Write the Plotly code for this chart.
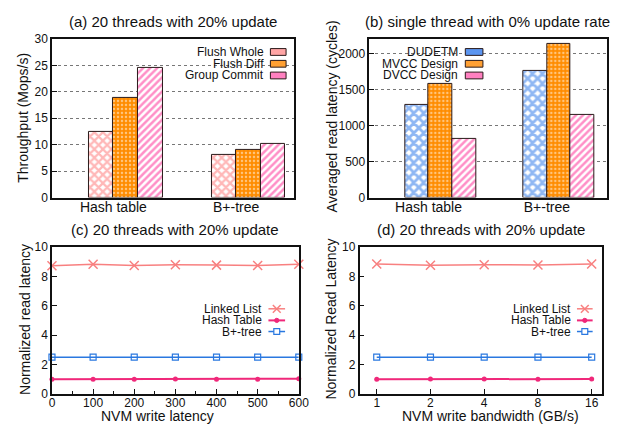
import plotly.graph_objects as go

W, H = 633, 428
FONT = "Liberation Sans, Arial, sans-serif"

# ---------------- data ----------------
structs = ["Hash table", "B+-tree"]
flush_whole = [12.4, 8.1]
flush_diff = [18.8, 9.1]
group_commit = [24.5, 10.2]

dudetm = [1290, 1750]
mvcc = [1570, 2135]
dvcc = [815, 1148]

lat_x = [0, 100, 200, 300, 400, 500, 600]
lat_ll = [8.72, 8.82, 8.74, 8.78, 8.76, 8.74, 8.82]
lat_ht = [0.99, 1.0, 1.0, 1.01, 1.0, 1.0, 1.03]
lat_bp = [2.5, 2.5, 2.5, 2.5, 2.5, 2.5, 2.5]

bw_x = ["1", "2", "4", "8", "16"]
bw_ll = [8.83, 8.75, 8.79, 8.77, 8.83]
bw_ht = [1.0, 1.01, 1.02, 1.0, 1.01]
bw_bp = [2.5, 2.5, 2.5, 2.5, 2.5]

# ---------------- styles ----------------
PINK_L = "#ff6f6f"
ORANGE = "#ff8c00"
MAGENTA = "#ff1f8f"
BLUE = "#1f6fe8"
LL_C = "#f88080"
HT_C = "#f0287a"
BP_C = "#2a78e0"
EDGE = "#2a1a1a"


def px_x(p):
    return p / W


def px_y(p):
    return 1 - p / H


fig = go.Figure()

pat_whole = dict(shape="x", fgcolor=PINK_L, bgcolor="white", size=6, solidity=0.6)
pat_diff = dict(shape=".", fgcolor="white", bgcolor=ORANGE, size=4, solidity=0.3)
pat_gc = dict(shape="/", fgcolor=MAGENTA, bgcolor="white", size=5, solidity=0.5)
pat_dud = dict(shape="x", fgcolor=BLUE, bgcolor="white", size=7, solidity=0.65)

idx = list(range(len(structs)))

# panel a
for name, vals, pat, off in [("Flush Whole", flush_whole, pat_whole, -0.2),
                             ("Flush Diff", flush_diff, pat_diff, 0.0),
                             ("Group Commit", group_commit, pat_gc, 0.2)]:
    fig.add_trace(go.Bar(x=idx, y=vals, name=name, offset=off, width=0.2,
                         marker=dict(pattern=pat, line=dict(color=EDGE, width=1)),
                         xaxis="x", yaxis="y", showlegend=False))
# panel b
for name, vals, pat, off in [("DUDETM", dudetm, pat_dud, -0.2),
                             ("MVCC Design", mvcc, pat_diff, 0.0),
                             ("DVCC Design", dvcc, pat_gc, 0.2)]:
    fig.add_trace(go.Bar(x=idx, y=vals, name=name, offset=off, width=0.2,
                         marker=dict(pattern=pat, line=dict(color=EDGE, width=1)),
                         xaxis="x2", yaxis="y2", showlegend=False))

# panel c, d
for xa, ya, xs, ll, ht, bp in [("x3", "y3", lat_x, lat_ll, lat_ht, lat_bp),
                               ("x4", "y4", bw_x, bw_ll, bw_ht, bw_bp)]:
    fig.add_trace(go.Scatter(x=xs, y=ll, name="Linked List", mode="lines+markers",
                             line=dict(color=LL_C, width=1.5),
                             marker=dict(symbol="x-thin", size=9, line=dict(color=LL_C, width=1.5)),
                             xaxis=xa, yaxis=ya, showlegend=False, cliponaxis=False))
    fig.add_trace(go.Scatter(x=xs, y=ht, name="Hash Table", mode="lines+markers",
                             line=dict(color=HT_C, width=2),
                             marker=dict(symbol="circle", size=5, color=HT_C),
                             xaxis=xa, yaxis=ya, showlegend=False, cliponaxis=False))
    fig.add_trace(go.Scatter(x=xs, y=bp, name="B+-tree", mode="lines+markers",
                             line=dict(color=BP_C, width=1.5),
                             marker=dict(symbol="square-open", size=6, color=BP_C,
                                         line=dict(color=BP_C, width=1.2)),
                             xaxis=xa, yaxis=ya, showlegend=False, cliponaxis=False))

# ---------------- axes ----------------
dom = {
    "a": ([50, 297], [33, 197]),
    "b": ([374, 617], [33, 197]),
    "c": ([50, 302], [248, 400]),
    "d": ([364, 612], [248, 400]),
}


def xd(k):
    return [px_x(dom[k][0][0]), px_x(dom[k][0][1])]


def yd(k):
    return [px_y(dom[k][1][1]), px_y(dom[k][1][0])]


common = dict(showline=True, linecolor="#111", linewidth=1.5, mirror=True,
              ticks="inside", ticklen=5, tickcolor="#111", zeroline=False,
              tickfont=dict(family=FONT, size=12, color="#111"))
grid = dict(showgrid=True, gridcolor="#777", griddash="dot", gridwidth=1)
catx = {**common, "ticks": "", "ticklabelstandoff": -4,
        "tickfont": dict(family=FONT, size=14, color="#111")}
numx = {**common, "ticklabelstandoff": -3}

fig.update_layout(
    width=W, height=H, margin=dict(l=0, r=0, t=0, b=0),
    paper_bgcolor="white", plot_bgcolor="white",
    font=dict(family=FONT, size=12, color="#111"),
    showlegend=False, bargap=0,
    xaxis=dict(domain=xd("a"), anchor="y", range=[-0.5, 1.47], tickvals=idx, ticktext=structs,
               showgrid=False, **catx),
    yaxis=dict(domain=yd("a"), anchor="x", range=[0, 30], dtick=5, **common, **grid),
    xaxis2=dict(domain=xd("b"), anchor="y2", range=[-0.5, 1.51], tickvals=idx, ticktext=structs,
                showgrid=False, **catx),
    yaxis2=dict(domain=yd("b"), anchor="x2", range=[0, 2200], tickvals=[0, 500, 1000, 1500, 2000],
                **common, **grid),
    xaxis3=dict(domain=xd("c"), anchor="y3", range=[0, 600], dtick=100, showgrid=False,
                minor=dict(dtick=50, ticks="inside", ticklen=3, tickcolor="#111"), **numx),
    yaxis3=dict(domain=yd("c"), anchor="x3", range=[0, 10], dtick=2, showgrid=False, **common),
    xaxis4=dict(domain=xd("d"), anchor="y4", type="category", range=[-0.32, 4.2], showgrid=False,
                **numx),
    yaxis4=dict(domain=yd("d"), anchor="x4", range=[0, 10], dtick=2, showgrid=False, **common),
)

annotations = []
shapes = []


def text(x, y, s, size=12, anchor="center", angle=0):
    annotations.append(dict(x=px_x(x), y=px_y(y), xref="paper", yref="paper", text=s,
                            showarrow=False, xanchor=anchor, yanchor="middle", textangle=angle,
                            borderpad=0,
                            font=dict(family=FONT, size=size, color="#111")))


# titles
text(174, 15, "(a) 20 threads with 20% update", 15)
text(495, 15, "(b) single thread with 0% update rate", 15)
text(176, 230, "(c) 20 threads with 20% update", 15)
text(488, 230, "(d) 20 threads with 20% update", 15)

# axis titles
text(21, 115, "Throughput (Mops/s)", 14, angle=-90)
text(336, 113, "Averaged read latency (cycles)", 14, angle=-90)
text(23, 323, "Normalized read latency", 14, angle=-90)
text(335, 323, "Normalized Read Latency", 14, angle=-90)
text(158, 422.5, "NVM write latency", 14)
text(498, 422.5, "NVM write bandwidth (GB/s)", 14)

# legend backgrounds (hide gridlines)
shapes.append(dict(type="rect", xref="paper", yref="paper", layer="between",
                   x0=px_x(173), x1=px_x(296), y0=px_y(78), y1=px_y(38),
                   fillcolor="white", line=dict(width=0)))
shapes.append(dict(type="rect", xref="paper", yref="paper", layer="between",
                   x0=px_x(375), x1=px_x(495), y0=px_y(78), y1=px_y(38),
                   fillcolor="white", line=dict(width=0)))

rows = [46.5, 58.7, 70.8]
bar_leg = [
    (267, 273, 289, [("Flush Whole", "#ffa5a5"), ("Flush Diff", "#ffa033"), ("Group Commit", "#ff80c0")]),
    (466, 472, 490, [("DUDETM", "#5b95f0"), ("MVCC Design", "#ffa033"), ("DVCC Design", "#ff80c0")]),
]
for tx, s0, s1, items in bar_leg:
    for (lab, col), ry in zip(items, rows):
        text(tx, ry, lab, 12, anchor="right")
        shapes.append(dict(type="rect", xref="paper", yref="paper", layer="above",
                           x0=px_x(s0), x1=px_x(s1), y0=px_y(ry + 3.5), y1=px_y(ry - 3.5),
                           fillcolor=col, line=dict(color=EDGE, width=1)))

lrows = [312, 324, 335.5]
for tx, l0, l1 in [(265, 271, 288), (581, 586, 602)]:
    mx = (l0 + l1) / 2
    for (lab, col, w), ry in zip([("Linked List", LL_C, 1.5), ("Hash Table", HT_C, 2),
                                  ("B+-tree", BP_C, 1.5)], lrows):
        text(tx, ry, lab, 12, anchor="right")
        shapes.append(dict(type="line", xref="paper", yref="paper", layer="above",
                           x0=px_x(l0), x1=px_x(l1), y0=px_y(ry), y1=px_y(ry),
                           line=dict(color=col, width=w)))
        if lab == "Linked List":
            for dy in (-4, 4):
                shapes.append(dict(type="line", xref="paper", yref="paper", layer="above",
                                   x0=px_x(mx - 4), x1=px_x(mx + 4), y0=px_y(ry - dy), y1=px_y(ry + dy),
                                   line=dict(color=col, width=1.5)))
        elif lab == "Hash Table":
            shapes.append(dict(type="circle", xref="paper", yref="paper", layer="above",
                               x0=px_x(mx - 2.2), x1=px_x(mx + 2.2), y0=px_y(ry + 2.2), y1=px_y(ry - 2.2),
                               fillcolor=col, line=dict(color=col, width=1)))
        else:
            shapes.append(dict(type="rect", xref="paper", yref="paper", layer="above",
                               x0=px_x(mx - 3), x1=px_x(mx + 3), y0=px_y(ry + 3), y1=px_y(ry - 3),
                               fillcolor="white", line=dict(color=col, width=1.2)))

fig.update_layout(annotations=annotations, shapes=shapes)
fig.write_html("out.html", config={"displayModeBar": False},
               post_script="document.body.style.margin='0';document.body.style.padding='0';")
